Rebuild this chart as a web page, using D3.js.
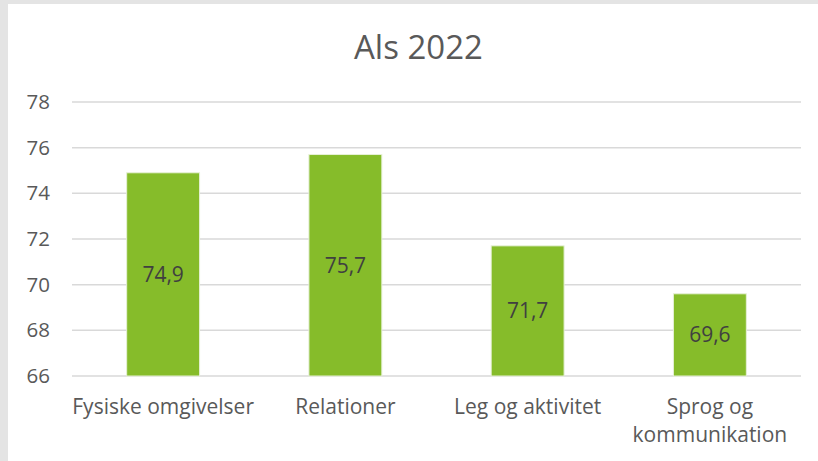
<!DOCTYPE html>
<html>
<head>
<meta charset="utf-8">
<script src="https://cdn.jsdelivr.net/npm/d3@7"></script>
<style>
  html, body { margin: 0; padding: 0; background: #e4e4e4; }
  svg { display: block; font-family: "Open Sans", sans-serif; }
</style>
</head>
<body>
<div id="chart"></div>
<script>
(function(){
    "use strict";

    // -> chart data
    var categories = ["Fysiske omgivelser", "Relationer", "Leg og aktivitet", "Sprog og kommunikation"];
    var values = [74.9, 75.7, 71.7, 69.6];
    var yTicks = [66, 68, 70, 72, 74, 76, 78];
    var title = "Als 2022";

    var width = 818,
        height = 461,
        margin = {top: 102, right: 17, bottom: 85, left: 72};

    var svg = d3.select("#chart").append("svg")
        .attr("width", width)
        .attr("height", height);

    //-> white chart area inside the grey frame
    svg.append("rect")
        .attr("x", 8).attr("y", 4)
        .attr("width", width - 8).attr("height", height - 4)
        .attr("fill", "#ffffff");

    var x = d3.scaleBand()
        .domain(categories)
        .range([margin.left, width - margin.right])
        .paddingInner(0.6)
        .paddingOuter(0.3);

    var y = d3.scaleLinear()
        .domain([66, 78])
        .range([height - margin.bottom, margin.top]);

    //-> title
    svg.append("text")
        .attr("x", 418.5)
        .attr("y", 59)
        .attr("text-anchor", "middle")
        .attr("fill", "#595959")
        .style("font-size", "33px")
        .text(title);

    //-> gridlines
    svg.append("g")
        .selectAll("line")
        .data(yTicks)
        .enter().append("line")
        .attr("x1", margin.left)
        .attr("x2", width - margin.right)
        .attr("y1", function(d) { return y(d); })
        .attr("y2", function(d) { return y(d); })
        .attr("stroke", "#d9d9d9")
        .attr("stroke-width", 1.5);

    //-> y axis labels
    var yAxis = svg.append("g")
        .attr("transform", "translate(" + (margin.left - 22) + ",0)")
        .call(d3.axisLeft(y).tickValues(yTicks).tickSize(0).tickPadding(0));
    yAxis.select(".domain").remove();
    yAxis.selectAll("text")
        .attr("fill", "#595959")
        .style("font-size", "20.5px")
        .style("font-family", "'Open Sans', sans-serif");

    //-> bars
    svg.append("g")
        .selectAll("rect")
        .data(values)
        .enter().append("rect")
        .attr("x", function(d, i) { return x(categories[i]); })
        .attr("y", function(d) { return y(d); })
        .attr("width", x.bandwidth())
        .attr("height", function(d) { return y(66) - y(d); })
        .attr("fill", "#86bc2a")
        .attr("stroke", "#e6f0d6")
        .attr("stroke-width", 1);

    //-> value labels in the middle of each bar
    svg.append("g")
        .selectAll("text")
        .data(values)
        .enter().append("text")
        .attr("x", function(d, i) { return x(categories[i]) + x.bandwidth() / 2; })
        .attr("y", function(d) { return (y(d) + y(66)) / 2; })
        .attr("dy", "0.35em")
        .attr("text-anchor", "middle")
        .attr("fill", "#404040")
        .style("font-size", "21px")
        .text(function(d) { return String(d).replace(".", ","); });

    //-> x axis labels, wrapped to the band
    var xAxis = svg.append("g")
        .attr("transform", "translate(0," + y(66) + ")")
        .call(d3.axisBottom(x).tickSize(0).tickPadding(0));
    xAxis.select(".domain").remove();
    xAxis.selectAll("text")
        .attr("fill", "#595959")
        .style("font-size", "21px")
        .style("font-family", "'Open Sans', sans-serif")
        .each(function() {
            var text = d3.select(this),
                words = text.text().split(/\s+/),
                line = [],
                lineNo = 0,
                tspan = text.text(null).append("tspan").attr("x", 0).attr("y", 38);
            words.forEach(function(w) {
                line.push(w);
                tspan.text(line.join(" "));
                if (tspan.node().getComputedTextLength() > x.step() && line.length > 1) {
                    line.pop();
                    tspan.text(line.join(" "));
                    line = [w];
                    lineNo++;
                    tspan = text.append("tspan").attr("x", 0).attr("y", 38 + lineNo * 28).text(w);
                }
            });
        })
        .attr("dy", null);
})();
</script>
</body>
</html>
